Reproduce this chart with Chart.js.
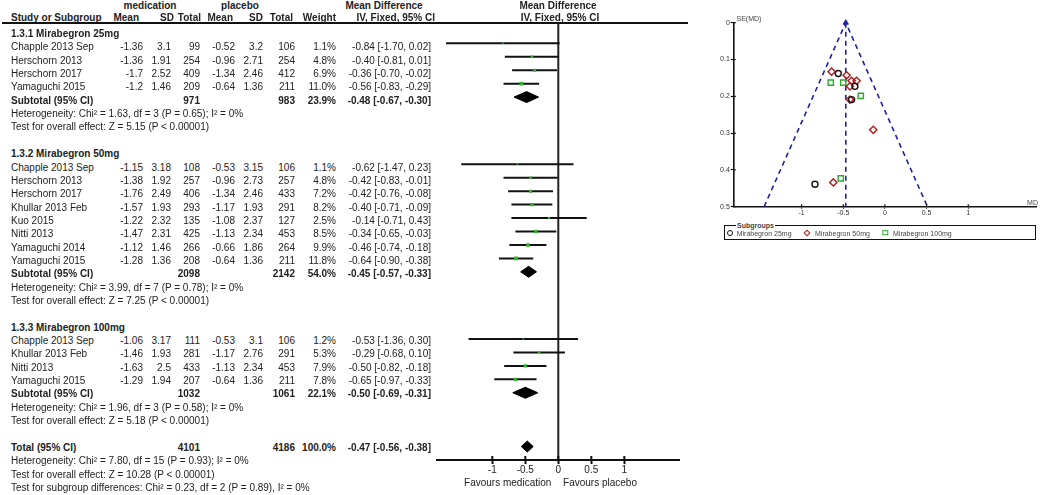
<!DOCTYPE html>
<html>
<head>
<meta charset="utf-8">
<script src="https://cdn.jsdelivr.net/npm/chart.js@4.4.0/dist/chart.umd.min.js"></script>
<style>
  body { margin: 0; background: #fff; font-family: "Liberation Sans", Arial, sans-serif; color: #222; }
  #page { position: relative; width: 1040px; height: 495px; overflow: hidden; }
  canvas { position: absolute; }
  .t { position: absolute; white-space: nowrap; font-size: 10px; line-height: 12px; }
  .b { font-weight: bold; }
  .s { font-size: 7px; line-height: 8px; color: #444; }
  .glyph { position: absolute; box-sizing: border-box; transform: translate(-50%, -50%); }
</style>
</head>
<body>
<div id="page">
  <canvas id="forest" width="260" height="495" style="left:430px;top:0"></canvas>
  <canvas id="funnel" width="340" height="222" style="left:700px;top:0"></canvas>
</div>
<script>
// studies, grouped by dose
const studies = ["Chapple 2013 Sep", "Herschorn 2013", "Herschorn 2017", "Yamaguchi 2015",
  "Chapple 2013 Sep", "Herschorn 2013", "Herschorn 2017", "Khullar 2013 Feb", "Kuo 2015", "Nitti 2013", "Yamaguchi 2014", "Yamaguchi 2015",
  "Chapple 2013 Sep", "Khullar 2013 Feb", "Nitti 2013", "Yamaguchi 2015"];
const group = [0, 0, 0, 0, 1, 1, 1, 1, 1, 1, 1, 1, 2, 2, 2, 2];
const medMean = [-1.36, -1.36, -1.7, -1.2, -1.15, -1.38, -1.76, -1.57, -1.22, -1.47, -1.12, -1.28, -1.06, -1.46, -1.63, -1.29];
const medSD = [3.1, 1.91, 2.52, 1.46, 3.18, 1.92, 2.49, 1.93, 2.32, 2.31, 1.46, 1.36, 3.17, 1.93, 2.5, 1.94];
const medN = [99, 254, 409, 209, 108, 257, 406, 293, 135, 425, 266, 208, 111, 281, 433, 207];
const plaMean = [-0.52, -0.96, -1.34, -0.64, -0.53, -0.96, -1.34, -1.17, -1.08, -1.13, -0.66, -0.64, -0.53, -1.17, -1.13, -0.64];
const plaSD = [3.2, 2.71, 2.46, 1.36, 3.15, 2.73, 2.46, 1.93, 2.37, 2.34, 1.86, 1.36, 3.1, 2.76, 2.34, 1.36];
const plaN = [106, 254, 412, 211, 106, 257, 433, 291, 127, 453, 264, 211, 106, 291, 453, 211];
const weight = [1.1, 4.8, 6.9, 11.0, 1.1, 4.8, 7.2, 8.2, 2.5, 8.5, 9.9, 11.8, 1.2, 5.3, 7.9, 7.8];
const md = [-0.84, -0.40, -0.36, -0.56, -0.62, -0.42, -0.42, -0.40, -0.14, -0.34, -0.46, -0.64, -0.53, -0.29, -0.50, -0.65];
const lo = [-1.70, -0.81, -0.70, -0.83, -1.47, -0.83, -0.76, -0.71, -0.71, -0.65, -0.74, -0.90, -1.36, -0.68, -0.82, -0.97];
const hi = [0.02, 0.01, -0.02, -0.29, 0.23, -0.01, -0.08, -0.09, 0.43, -0.03, -0.18, -0.38, 0.30, 0.10, -0.18, -0.33];
const se = [0.439, 0.209, 0.173, 0.138, 0.434, 0.209, 0.173, 0.158, 0.291, 0.158, 0.143, 0.133, 0.423, 0.199, 0.163, 0.163];

// subgroups
const groupNames = ["1.3.1 Mirabegron 25mg", "1.3.2 Mirabegron 50mg", "1.3.3 Mirabegron 100mg"];
const legendNames = ["Mirabegron 25mg", "Mirabegron 50mg", "Mirabegron 100mg"];
const subMedN = [971, 2098, 1032];
const subPlaN = [983, 2142, 1061];
const subWeight = [23.9, 54.0, 22.1];
const subMd = [-0.48, -0.45, -0.50];
const subLo = [-0.67, -0.57, -0.69];
const subHi = [-0.30, -0.33, -0.31];
const subHet = ["Heterogeneity: Chi² = 1.63, df = 3 (P = 0.65); I² = 0%",
  "Heterogeneity: Chi² = 3.99, df = 7 (P = 0.78); I² = 0%",
  "Heterogeneity: Chi² = 1.96, df = 3 (P = 0.58); I² = 0%"];
const subEffect = ["Test for overall effect: Z = 5.15 (P < 0.00001)",
  "Test for overall effect: Z = 7.25 (P < 0.00001)",
  "Test for overall effect: Z = 5.18 (P < 0.00001)"];

// overall
const totalN = [4101, 4186];
const totalWeight = 100.0;
const totalEst = [-0.47, -0.56, -0.38];
const totalNotes = ["Heterogeneity: Chi² = 7.80, df = 15 (P = 0.93); I² = 0%",
  "Test for overall effect: Z = 10.28 (P < 0.00001)",
  "Test for subgroup differences: Chi² = 0.23, df = 2 (P = 0.89), I² = 0%"];

const forestTicks = [-1, -0.5, 0, 0.5, 1];
const funnelTicksX = [-1, -0.5, 0, 0.5, 1];
const funnelTicksY = [0, 0.1, 0.2, 0.3, 0.4, 0.5];

// layout: text rows and plot rows sit on slightly different grids, as in the original
const page = document.getElementById('page');
const rowTop = 34, rowStep = 13.35;          // text rows
const plotTop = 29.9, plotStep = 13.44;      // plot rows
const headLineY = 23, axisY = 460;
const col = { name: 11, medMean: 143, medSD: 171, medN: 200, plaMean: 235, plaSD: 263, plaN: 295, weight: 336, ci: 431 };
function rowY(i) { return rowTop + rowStep * i; }

function put(text, x, y, align, cls) {
  const d = document.createElement('div');
  d.className = 't ' + (cls || '');
  d.textContent = text;
  d.style.left = x + 'px';
  d.style.top = y + 'px';
  const tx = align === 'r' ? '-100%' : align === 'c' ? '-50%' : '0';
  d.style.transform = 'translate(' + tx + ',-50%)';
  page.appendChild(d);
  return d;
}
function ci(m, l, h) { return m.toFixed(2) + ' [' + l.toFixed(2) + ', ' + h.toFixed(2) + ']'; }

// table header
put('medication', 150, 6, 'c', 'b');
put('placebo', 240, 6, 'c', 'b');
put('Mean Difference', 384, 6, 'c', 'b');
put('Mean Difference', 558, 6, 'c', 'b');
put('Study or Subgroup', col.name, 17.5, 'l', 'b');
put('Mean', 139, 17.5, 'r', 'b');
put('SD', 174, 17.5, 'r', 'b');
put('Total', 201, 17.5, 'r', 'b');
put('Mean', 233, 17.5, 'r', 'b');
put('SD', 263, 17.5, 'r', 'b');
put('Total', 293, 17.5, 'r', 'b');
put('Weight', 336, 17.5, 'r', 'b');
put('IV, Fixed, 95% CI', 435, 17.5, 'r', 'b');
put('IV, Fixed, 95% CI', 560, 17.5, 'c', 'b');
const hl = document.createElement('div');
hl.style.cssText = 'position:absolute;left:2px;top:' + (headLineY - 1) + 'px;width:686px;height:2px;background:#111';
page.appendChild(hl);

// table body
const studyRow = [], subRow = [];
let r = 0;
groupNames.forEach((g, gi) => {
  put(g, col.name, rowY(r++), 'l', 'b');
  studies.forEach((s, k) => {
    if (group[k] !== gi) return;
    const y = rowY(r);
    studyRow[k] = r++;
    put(s, col.name, y, 'l');
    put(String(medMean[k]), col.medMean, y, 'r');
    put(String(medSD[k]), col.medSD, y, 'r');
    put(String(medN[k]), col.medN, y, 'r');
    put(String(plaMean[k]), col.plaMean, y, 'r');
    put(String(plaSD[k]), col.plaSD, y, 'r');
    put(String(plaN[k]), col.plaN, y, 'r');
    put(weight[k].toFixed(1) + '%', col.weight, y, 'r');
    put(ci(md[k], lo[k], hi[k]), col.ci, y, 'r');
  });
  const y = rowY(r);
  subRow[gi] = r++;
  put('Subtotal (95% CI)', col.name, y, 'l', 'b');
  put(String(subMedN[gi]), col.medN, y, 'r', 'b');
  put(String(subPlaN[gi]), col.plaN, y, 'r', 'b');
  put(subWeight[gi].toFixed(1) + '%', col.weight, y, 'r', 'b');
  put(ci(subMd[gi], subLo[gi], subHi[gi]), col.ci, y, 'r', 'b');
  put(subHet[gi], col.name, rowY(r++), 'l');
  put(subEffect[gi], col.name, rowY(r++), 'l');
  r++;
});
const totalRow = r;
put('Total (95% CI)', col.name, rowY(r), 'l', 'b');
put(String(totalN[0]), col.medN, rowY(r), 'r', 'b');
put(String(totalN[1]), col.plaN, rowY(r), 'r', 'b');
put(totalWeight.toFixed(1) + '%', col.weight, rowY(r), 'r', 'b');
put(ci(totalEst[0], totalEst[1], totalEst[2]), col.ci, rowY(r), 'r', 'b');
r++;
totalNotes.forEach(n => put(n, col.name, rowY(r++), 'l'));

put('Favours medication', 507.7, 482.7, 'c');
put('Favours placebo', 600, 482.7, 'c');

// ticks that cross the axis line
const crossTicks = {
  id: 'crossTicks',
  afterDraw(chart, args, opts) {
    const { ctx, chartArea, scales } = chart;
    ctx.save();
    ctx.strokeStyle = opts.color;
    ctx.lineWidth = opts.width;
    ctx.beginPath();
    scales.x.ticks.forEach(t => {
      const px = scales.x.getPixelForValue(t.value);
      ctx.moveTo(px, chartArea.bottom);
      ctx.lineTo(px, chartArea.bottom - opts.len);
    });
    if (opts.y) {
      scales.y.ticks.forEach(t => {
        const py = scales.y.getPixelForValue(t.value);
        ctx.moveTo(chartArea.left, py);
        ctx.lineTo(chartArea.left + opts.len, py);
      });
    }
    ctx.stroke();
    ctx.restore();
  }
};

Chart.defaults.font.family = '"Liberation Sans", Arial, sans-serif';
Chart.defaults.color = '#222';

// forest plot
const dh = 5.5 / plotStep;
function diamond(m, l, h, row) {
  return {
    data: [{ x: l, y: row }, { x: m, y: row - dh }, { x: h, y: row }, { x: m, y: row + dh }, { x: l, y: row }],
    showLine: true, fill: 'shape', pointRadius: 0, borderWidth: 1,
    borderColor: '#000', backgroundColor: '#000'
  };
}
const forestSets = [{
  data: studies.map((s, k) => ({ x: md[k], y: studyRow[k] })),
  pointStyle: 'rect',
  pointRadius: c => 0.3 + 0.7 * Math.sqrt(weight[c.dataIndex]),
  backgroundColor: '#2fb52f', borderWidth: 0
}];
studies.forEach((s, k) => forestSets.push({
  data: [{ x: lo[k], y: studyRow[k] }, { x: hi[k], y: studyRow[k] }],
  showLine: true, pointRadius: 0, borderWidth: 2, borderColor: '#111'
}));
groupNames.forEach((g, gi) => forestSets.push(diamond(subMd[gi], subLo[gi], subHi[gi], subRow[gi])));
forestSets.push(diamond(totalEst[0], totalEst[1], totalEst[2], totalRow));
const yMin = -plotTop / plotStep, yMax = (axisY - plotTop) / plotStep;
forestSets.push({
  data: [{ x: 0, y: (headLineY - plotTop) / plotStep }, { x: 0, y: yMax }],
  showLine: true, pointRadius: 0, borderWidth: 2, borderColor: '#222'
});

new Chart(document.getElementById('forest'), {
  type: 'scatter',
  data: { datasets: forestSets },
  options: {
    responsive: false, animation: false,
    layout: { autoPadding: false, padding: { left: 7.3, right: 10.7, top: 0, bottom: 0 } },
    plugins: { legend: { display: false }, tooltip: { enabled: false },
      crossTicks: { len: 4, width: 2, color: '#111' } },
    scales: {
      x: {
        type: 'linear', min: -1.833, max: 1.833,
        afterBuildTicks: s => { s.ticks = forestTicks.map(v => ({ value: v })); },
        afterFit: s => { s.height = 35; },
        border: { display: true, width: 2, color: '#111' },
        grid: { drawOnChartArea: false, drawTicks: true, tickLength: 4, tickWidth: 2, tickColor: '#111' },
        ticks: { padding: 0, font: { size: 10 }, color: '#222', maxRotation: 0, callback: v => String(v) }
      },
      y: { type: 'linear', display: false, reverse: true, min: yMin, max: yMax }
    }
  },
  plugins: [crossTicks]
});

// funnel plot
const pooled = totalEst[0];
const seMax = funnelTicksY[funnelTicksY.length - 1];
const groupStyles = [
  { pointStyle: 'circle', pointRadius: 3, borderColor: '#111' },
  { pointStyle: 'rectRot', pointRadius: 3.6, borderColor: '#b01c1c' },
  { pointStyle: 'rect', pointRadius: 3.7, borderColor: '#2ea82e' }
];
const funnelSets = groupNames.map((g, gi) => Object.assign({
  data: studies.map((s, k) => ({ x: md[k], y: se[k] })).filter((p, k) => group[k] === gi),
  backgroundColor: 'rgba(0,0,0,0)', borderWidth: 1.4, clip: false
}, groupStyles[gi]));
funnelSets.push({
  data: [{ x: pooled, y: 0 }], pointStyle: 'triangle', pointRadius: 3,
  backgroundColor: '#1f1fa8', borderColor: '#1f1fa8', borderWidth: 1, clip: false
});
funnelSets.push({
  data: [{ x: pooled - 1.96 * seMax, y: seMax }, { x: pooled, y: 0 }, { x: pooled + 1.96 * seMax, y: seMax }],
  showLine: true, pointRadius: 0, borderWidth: 1.6, borderColor: '#1f1fa8', borderDash: [5, 4]
});
funnelSets.push({
  data: [{ x: pooled, y: 0 }, { x: pooled, y: seMax }],
  showLine: true, pointRadius: 0, borderWidth: 1.6, borderColor: '#1f1fa8', borderDash: [5, 4]
});

new Chart(document.getElementById('funnel'), {
  type: 'scatter',
  data: { datasets: funnelSets },
  options: {
    responsive: false, animation: false,
    layout: { autoPadding: false, padding: { left: 0, right: 3.4, top: 22.7, bottom: 0 } },
    plugins: { legend: { display: false }, tooltip: { enabled: false },
      crossTicks: { len: 2.5, width: 1.2, color: '#111', y: true } },
    scales: {
      x: {
        type: 'linear', min: -1.82, max: 1.82,
        afterBuildTicks: s => { s.ticks = funnelTicksX.map(v => ({ value: v })); },
        afterFit: s => { s.height = 15.3; },
        border: { display: true, width: 1.6, color: '#111' },
        grid: { drawOnChartArea: false, tickLength: 2, tickWidth: 1.2, tickColor: '#111' },
        ticks: { padding: 0, font: { size: 7 }, color: '#333', maxRotation: 0, callback: v => String(v) }
      },
      y: {
        type: 'linear', reverse: true, min: 0, max: seMax,
        afterBuildTicks: s => { s.ticks = funnelTicksY.map(v => ({ value: v })); },
        afterFit: s => { s.width = 33.3; },
        border: { display: true, width: 1.6, color: '#111' },
        grid: { drawOnChartArea: false, tickLength: 2.5, tickWidth: 1.2, tickColor: '#111' },
        ticks: { padding: 1, font: { size: 7 }, color: '#333', callback: v => String(v) }
      }
    }
  },
  plugins: [crossTicks]
});

// funnel labels and legend
const se_ = put('SE(MD)', 736.5, 19, 'l'); se_.classList.add('s');
const md_ = put('MD', 1038, 202.5, 'r'); md_.classList.add('s');
const box = document.createElement('div');
box.style.cssText = 'position:absolute;left:724px;top:225px;width:312px;height:15px;box-sizing:border-box;border:1.5px solid #111';
page.appendChild(box);
const sg = put('Subgroups', 736, 225.5, 'l', 'b');
sg.classList.add('s');
sg.style.background = '#fff';
sg.style.padding = '0 1px';
const glyphX = [730, 807, 885], textX = [736.7, 815, 893];
const glyphCss = [
  'width:6px;height:6px;border:1.4px solid #111;border-radius:50%',
  'width:5px;height:5px;border:1.4px solid #b01c1c;transform:translate(-50%,-50%) rotate(45deg)',
  'width:5.5px;height:5.5px;border:1.4px solid #2ea82e'
];
legendNames.forEach((n, i) => {
  const g = document.createElement('div');
  g.className = 'glyph';
  g.style.cssText += glyphCss[i] + ';left:' + glyphX[i] + 'px;top:232.5px';
  page.appendChild(g);
  const t = put(n, textX[i], 233.5, 'l');
  t.classList.add('s');
});
</script>
</body>
</html>
